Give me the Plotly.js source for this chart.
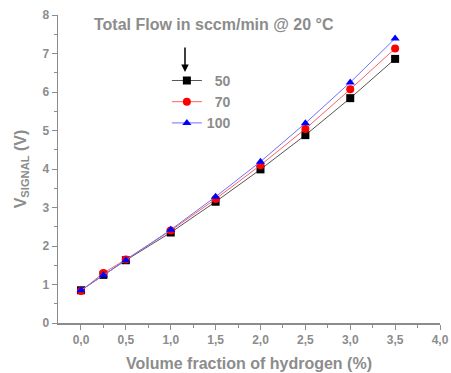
<!DOCTYPE html>
<html><head><meta charset="utf-8">
<script src="https://cdn.plot.ly/plotly-3.0.1.min.js"></script>
<style>html,body{margin:0;padding:0;background:#fff}</style>
</head><body>
<div id="chart" style="width:451px;height:373px"></div>
<script>
const xValues = [0, 0.25, 0.5, 1.0, 1.5, 2.0, 2.5, 3.0, 3.5];
const flow50 = [0.85, 1.25, 1.63, 2.35, 3.15, 3.99, 4.88, 5.84, 6.86];
const flow70 = [0.83, 1.30, 1.65, 2.40, 3.22, 4.10, 5.04, 6.07, 7.13];
const flow100 = [0.85, 1.24, 1.63, 2.42, 3.28, 4.19, 5.19, 6.25, 7.39];
const seriesNames = ['\u00a0\u00a050', '\u00a0\u00a070', '100'];

const gray = '#8c8c8c';
const mk = (y, name, lc, mc, sym) => ({
  x: xValues, y: y, name: name, type: 'scatter', mode: 'lines+markers',
  line: {color: lc, width: 1},
  marker: {color: mc, symbol: sym, size: 8}
});
const data = [
  mk(flow50, seriesNames[0], '#555555', '#000000', 'square'),
  mk(flow70, seriesNames[1], '#ff6060', '#ff0000', 'circle'),
  mk(flow100, seriesNames[2], '#7070ff', '#0000ff', 'triangle-up')
];
const axisFont = {family: 'Liberation Sans, Arial, sans-serif', size: 12, color: gray, weight: 'bold'};
const layout = {
  width: 451, height: 373,
  margin: {l: 58, r: 11, t: 15, b: 50},
  separators: ',.',
  showlegend: true,
  legend: {x: 0.285, y: 0.838, xanchor: 'left', yanchor: 'top', bgcolor: 'rgba(0,0,0,0)',
    font: {family: 'Liberation Sans, Arial, sans-serif', size: 14, color: gray, weight: 'bold'},
    tracegroupgap: 0, itemwidth: 30},
  xaxis: {range: [-0.256, 4.0], tickvals: [0,0.5,1,1.5,2,2.5,3,3.5,4], tickformat: '.1f',
    showgrid: false, zeroline: false, showline: true, linecolor: gray, linewidth: 1.5,
    ticks: 'outside', ticklen: 5, tickcolor: gray, tickfont: axisFont,
    minor: {tickvals: [0.25,0.75,1.25,1.75,2.25,2.75,3.25,3.75], ticks: 'outside', ticklen: 3, tickcolor: gray},
    title: {text: 'Volume fraction of hydrogen (%)', font: {family: 'Liberation Sans, Arial, sans-serif', size: 16, color: gray, weight: 'bold'}, standoff: 12}},
  yaxis: {range: [0, 8], dtick: 1, tickformat: 'd',
    showgrid: false, zeroline: false, showline: true, linecolor: gray, linewidth: 1.5,
    ticks: 'outside', ticklen: 5, tickcolor: gray, tickfont: axisFont,
    minor: {dtick: 0.5, ticks: 'outside', ticklen: 3, tickcolor: gray},
    title: {text: 'V<sub>SIGNAL</sub> (V)', font: {family: 'Liberation Sans, Arial, sans-serif', size: 16, color: gray, weight: 'bold'}, standoff: 12}},
  annotations: [
    {xref: 'paper', yref: 'paper', x: 0.088, y: 0.968, xanchor: 'left', yanchor: 'middle', showarrow: false,
     text: 'Total Flow in sccm/min @ 20 °C',
     font: {family: 'Liberation Sans, Arial, sans-serif', size: 16, color: gray, weight: 'bold'}},
    {xref: 'x', yref: 'y', x: 1.159, y: 6.52, ax: 0, ay: -26, showarrow: true, arrowhead: 2, arrowsize: 1, arrowwidth: 1.5, arrowcolor: '#000', text: ''}
  ],
  plot_bgcolor: '#fff', paper_bgcolor: '#fff'
};
Plotly.newPlot('chart', data, layout, {displayModeBar: false, staticPlot: true});
</script>
</body></html>
